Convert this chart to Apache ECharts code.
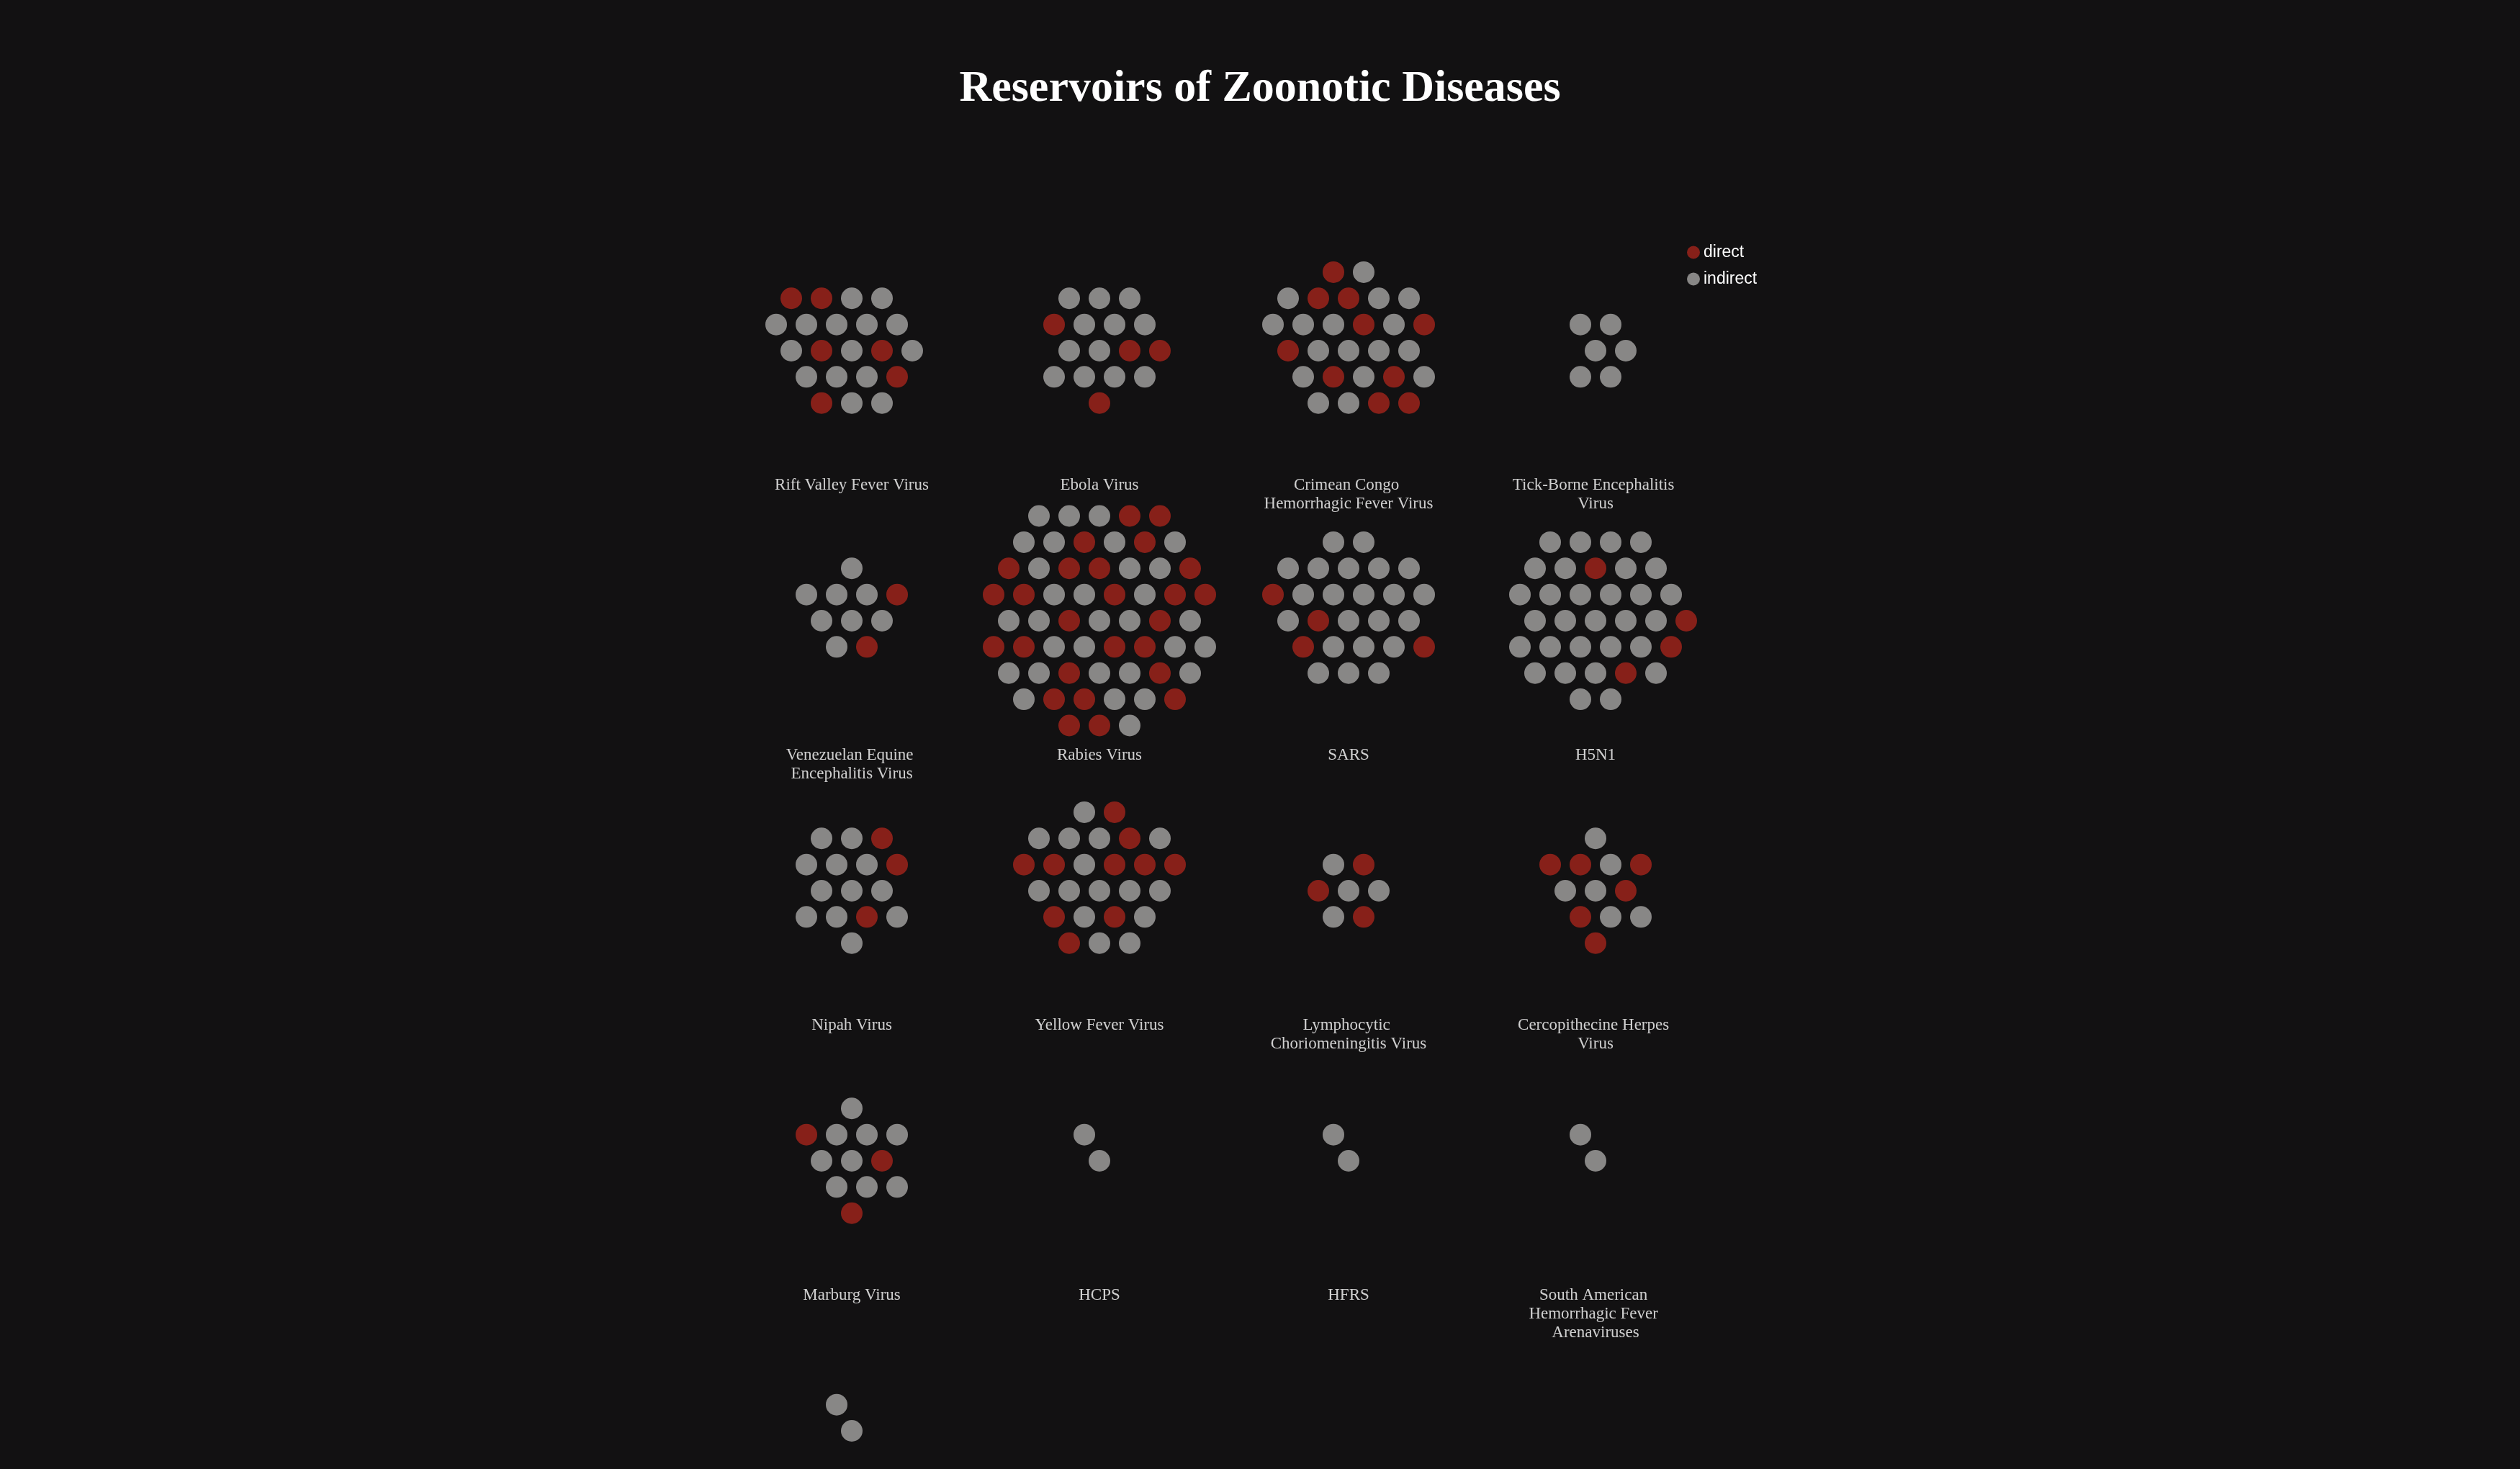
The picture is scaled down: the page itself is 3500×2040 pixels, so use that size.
<!DOCTYPE html>
<html><head><meta charset="utf-8">
<script src="https://cdn.jsdelivr.net/npm/echarts@6/dist/echarts.min.js"></script>
<style>html,body{margin:0;background:#121112}#c{width:3500px;height:2040px}</style>
</head><body><div id="c"></div>
<script>
const diseases = ["Rift Valley Fever Virus","Ebola Virus","Crimean Congo Hemorrhagic Fever Virus","Tick-Borne Encephalitis Virus",
"Venezuelan Equine Encephalitis Virus","Rabies Virus","SARS","H5N1",
"Nipah Virus","Yellow Fever Virus","Lymphocytic Choriomeningitis Virus","Cercopithecine Herpes Virus",
"Marburg Virus","HCPS","HFRS","South American Hemorrhagic Fever Arenaviruses","Other"];
const directCounts   = [6,4,10,0, 2,26,4,4, 3,10,3,6, 3,0,0,0, 0];
const indirectCounts = [15,12,17,6, 8,31,22,30, 12,15,4,6, 9,2,2,2, 2];
const labels = diseases.slice(0,16);

// layout constants (not data)
const colX = [1183,1527,1873,2216], row0 = 487, rowStep = 375, spacing = 42;
const lattice = [];
for (let q=-8;q<=8;q++) for (let r=-8;r<=8;r++){
  const x = spacing*(q + r/2), y = spacing*(r*Math.sqrt(3)/2);
  lattice.push([x,y,Math.hypot(x,y)+0.001*Math.atan2(y,x)]);
}
lattice.sort((a,b)=>a[2]-b[2]);
const directPts=[], indirectPts=[], labelPts=[];
diseases.forEach((d,i)=>{
  const cx = colX[i%4], cy = row0 + Math.floor(i/4)*rowStep;
  const nd = directCounts[i], n = nd + indirectCounts[i];
  for (let k=0;k<n;k++){
    const p=[cx+lattice[k][0], cy+lattice[k][1]];
    const isD = nd>0 && Math.floor((k+1)*nd/n) > Math.floor(k*nd/n);
    (isD?directPts:indirectPts).push(p);
  }
  if (i<labels.length) labelPts.push({value:[cx, cy+174], name:labels[i]});
});
const chart = echarts.init(document.getElementById('c'));
chart.setOption({
  backgroundColor:'#121112',
  animation:false,
  title:{text:'Reservoirs of Zoonotic Diseases',left:'center',top:88,
    textStyle:{fontFamily:'Liberation Serif',fontWeight:'bold',fontSize:62,color:'#ffffff',
      textShadowColor:'#a5241c',textShadowOffsetX:4,textShadowOffsetY:4,textShadowBlur:0}},
  legend:{orient:'vertical',left:2338,top:334,itemGap:14,itemWidth:18,itemHeight:18,icon:'circle',
    textStyle:{color:'#ffffff',fontFamily:'Liberation Sans',fontSize:23},data:['direct','indirect']},
  grid:{left:0,right:0,top:0,bottom:0},
  xAxis:{type:'value',min:0,max:3500,show:false},
  yAxis:{type:'value',min:0,max:2040,inverse:true,show:false},
  series:[
    {name:'direct',type:'scatter',data:directPts,symbolSize:30,itemStyle:{color:'#a5241c'}},
    {name:'indirect',type:'scatter',data:indirectPts,symbolSize:30,itemStyle:{color:'#a6a5a4'}},
    {name:'labels',type:'scatter',data:labelPts,symbolSize:0,silent:true,
      label:{show:true,position:'inside',verticalAlign:'top',formatter:p=>p.name,color:'#ffffff',
        fontFamily:'Liberation Serif',fontSize:23,lineHeight:26,width:250,overflow:'break',align:'center'}}
  ]
});
</script></body></html>
